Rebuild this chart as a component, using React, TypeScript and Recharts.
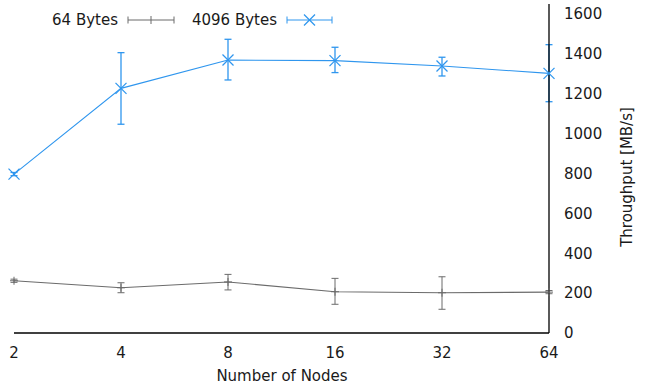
import { ComposedChart, Line, XAxis, YAxis, ErrorBar } from 'recharts';

// node counts on the log2 x axis
const nodes = [2, 4, 8, 16, 32, 64];

// 64 Bytes messages (MB/s) with error bar bounds
const bytes64 = [262, 227, 256, 207, 202, 205];
const bytes64Low = [254, 202, 216, 144, 119, 197];
const bytes64High = [270, 252, 294, 274, 282, 213];

// 4096 Bytes messages (MB/s) with error bar bounds
const bytes4096 = [797, 1227, 1369, 1366, 1339, 1302];
const bytes4096Low = [789, 1047, 1269, 1306, 1289, 1160];
const bytes4096High = [805, 1406, 1473, 1433, 1383, 1446];

const yTicks = [0, 200, 400, 600, 800, 1000, 1200, 1400, 1600];
const yMinorTicks = [100, 300, 500, 700, 900, 1100, 1300, 1500];

const seriesNames = ['64 Bytes', '4096 Bytes'];
const GRAY = '#6b6b6b';
const BLUE = '#2f96ee';
const FONT = '"DejaVu Sans", sans-serif';

const data = nodes.map((n, i) => ({
  nodes: n,
  b64: bytes64[i],
  b64Err: [bytes64[i] - bytes64Low[i], bytes64High[i] - bytes64[i]],
  b4096: bytes4096[i],
  b4096Err: [bytes4096[i] - bytes4096Low[i], bytes4096High[i] - bytes4096[i]],
}));

const PlusDot = (props: any) => {
  const { cx, cy } = props;
  if (cx == null || cy == null) return null;
  const s = 4;
  return (
    <g stroke={GRAY} strokeWidth={1}>
      <line x1={cx - s} y1={cy} x2={cx + s} y2={cy} />
      <line x1={cx} y1={cy - s} x2={cx} y2={cy + s} />
    </g>
  );
};

const CrossDot = (props: any) => {
  const { cx, cy } = props;
  if (cx == null || cy == null) return null;
  const s = 5.5;
  return (
    <g stroke={BLUE} strokeWidth={1.2}>
      <line x1={cx - s} y1={cy - s} x2={cx + s} y2={cy + s} />
      <line x1={cx - s} y1={cy + s} x2={cx + s} y2={cy - s} />
    </g>
  );
};

function LegendSample({ x1, x2, y, color, marker }: { x1: number; x2: number; y: number; color: string; marker: 'plus' | 'cross' }) {
  const mid = (x1 + x2) / 2;
  return (
    <g stroke={color} strokeWidth={1}>
      <line x1={x1} y1={y} x2={x2} y2={y} />
      <line x1={x1} y1={y - 3.5} x2={x1} y2={y + 3.5} />
      <line x1={x2} y1={y - 3.5} x2={x2} y2={y + 3.5} />
      {marker === 'plus' ? (
        <>
          <line x1={mid} y1={y - 4} x2={mid} y2={y + 4} />
        </>
      ) : (
        <>
          <line x1={mid - 5.5} y1={y - 5.5} x2={mid + 5.5} y2={y + 5.5} strokeWidth={1.2} />
          <line x1={mid - 5.5} y1={y + 5.5} x2={mid + 5.5} y2={y - 5.5} strokeWidth={1.2} />
        </>
      )}
    </g>
  );
}

export default function App() {
  const tickStyle = { fontFamily: FONT, fontSize: 15, fill: '#1a1a1a' };
  return (
    <div style={{ position: 'absolute', left: 0, top: 0, width: 645, height: 389, background: '#fff' }}>
      <ComposedChart
        width={645}
        height={389}
        data={data}
        margin={{ top: 4, right: 36, left: 14, bottom: 26 }}
      >
        <XAxis
          xAxisId="x"
          dataKey="nodes"
          type="number"
          scale="log"
          domain={[2, 64]}
          ticks={nodes}
          height={30}
          tickLine={false}
          tickSize={0}
          tickMargin={14}
          axisLine={{ stroke: '#000', strokeWidth: 1.3 }}
          tick={tickStyle}
        />
        <XAxis
          xAxisId="xb"
          dataKey="nodes"
          type="number"
          scale="log"
          domain={[2, 64]}
          ticks={nodes}
          height={0}
          mirror
          tick={false}
          tickSize={6}
          tickLine={{ stroke: '#000' }}
          axisLine={false}
        />
        <XAxis
          xAxisId="xt"
          orientation="top"
          dataKey="nodes"
          type="number"
          scale="log"
          domain={[2, 64]}
          ticks={nodes}
          height={0}
          mirror
          tick={false}
          tickSize={6}
          tickLine={{ stroke: '#000' }}
          axisLine={{ stroke: '#000', strokeWidth: 1.3 }}
        />
        <YAxis
          yAxisId="y"
          orientation="right"
          type="number"
          domain={[0, 1650]}
          ticks={yTicks}
          width={60}
          tickLine={false}
          tickSize={0}
          tickMargin={15}
          axisLine={{ stroke: '#000', strokeWidth: 1.3 }}
          tick={{ ...tickStyle, textAnchor: 'start' }}
        />
        <YAxis
          yAxisId="ym"
          orientation="right"
          type="number"
          domain={[0, 1650]}
          ticks={yTicks}
          width={0}
          mirror
          tick={false}
          tickSize={6}
          tickLine={{ stroke: '#000' }}
          axisLine={false}
        />
        <YAxis
          yAxisId="yn"
          orientation="right"
          type="number"
          domain={[0, 1650]}
          ticks={yMinorTicks}
          width={0}
          mirror
          tick={false}
          tickSize={3}
          tickLine={{ stroke: '#000' }}
          axisLine={false}
        />
        <YAxis
          yAxisId="yl"
          orientation="left"
          type="number"
          domain={[0, 1650]}
          width={0}
          tick={false}
          tickLine={false}
          axisLine={{ stroke: '#000', strokeWidth: 1.3 }}
        />
        <Line
          xAxisId="x"
          yAxisId="y"
          dataKey="b64"
          name={seriesNames[0]}
          type="linear"
          stroke={GRAY}
          strokeWidth={1.1}
          dot={<PlusDot />}
          activeDot={false}
          isAnimationActive={false}
        >
          <ErrorBar dataKey="b64Err" direction="y" width={3.5} stroke={GRAY} strokeWidth={1} />
        </Line>
        <Line
          xAxisId="x"
          yAxisId="y"
          dataKey="b4096"
          name={seriesNames[1]}
          type="linear"
          stroke={BLUE}
          strokeWidth={1.1}
          dot={<CrossDot />}
          activeDot={false}
          isAnimationActive={false}
        >
          <ErrorBar dataKey="b4096Err" direction="y" width={3.5} stroke={BLUE} strokeWidth={1.3} />
        </Line>
      </ComposedChart>
      <svg
        width={645}
        height={389}
        style={{ position: 'absolute', left: 0, top: 0, pointerEvents: 'none' }}
      >
        <g style={{ fontFamily: FONT, fontSize: 15 }} fill="#1a1a1a">
          <text x={118} y={20} textAnchor="end" dominantBaseline="central">{seriesNames[0]}</text>
          <text x={277} y={20} textAnchor="end" dominantBaseline="central">{seriesNames[1]}</text>
          <text x={282} y={376} textAnchor="middle" dominantBaseline="central">Number of Nodes</text>
          <text
            x={627}
            y={177}
            textAnchor="middle"
            dominantBaseline="central"
            transform="rotate(-90 627 177)"
          >
            Throughput [MB/s]
          </text>
        </g>
        <LegendSample x1={128} x2={174} y={20} color={GRAY} marker="plus" />
        <LegendSample x1={287} x2={332} y={20} color={BLUE} marker="cross" />
      </svg>
    </div>
  );
}
